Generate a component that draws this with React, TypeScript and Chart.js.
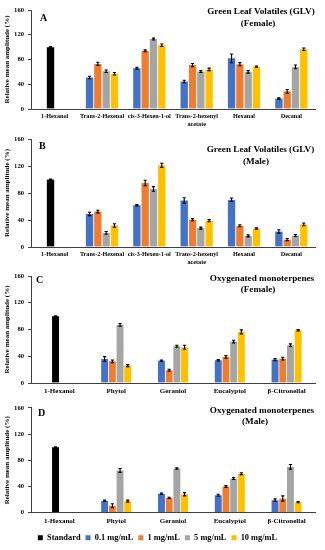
import React, { useEffect, useRef } from 'react';
import { Chart, registerables } from 'chart.js';
Chart.register(...registerables);

const FONT = "'Liberation Serif', 'Times New Roman', serif";
const COLORS = ['#000000', '#4472C4', '#ED7D31', '#A5A5A5', '#FFC000'];

const seriesLabels = ['Standard', '0.1 mg/mL', '1 mg/mL', '5 mg/mL', '10 mg/mL'];
const yAxisTitle = 'Relative mean amplitude (%)';
const yMin = 0;
const yMax = 160;
const yStep = 40;

const glvCategories: (string | string[])[] = ['1-Hexanol', 'Trans-2-Hexenal', 'cis-3-Hexen-1-ol', ['Trans-2-hexenyl', 'acetate'], 'Hexanal', 'Decanal'];
const omCategories: string[] = ['1-Hexanol', 'Phytol', 'Geraniol', 'Eucalyptol', 'β-Citronellal'];

// Panel A: GLV Female
const aStandard = [100, null, null, null, null, null];
const a01 = [0, 51, 66, 44.5, 82, 17];
const a1 = [null, 73, 94, 71, 72.5, 28.5];
const a5 = [null, 61, 113, 60.5, 60, 68];
const a10 = [null, 57, 103, 64, 68.5, 96.5];
const aStandardErr = [1, null, null, null, null, null];
const a01Err = [null, 2, 1.5, 2, 7, 1];
const a1Err = [null, 2.5, 1.5, 2.5, 2.5, 3];
const a5Err = [null, 2, 1.5, 1.5, 2, 3];
const a10Err = [null, 2, 2, 2, 1, 2];

// Panel B: GLV Male
const bStandard = [100, null, null, null, null, null];
const b01 = [0, 49, 62, 69, 70, 23];
const b1 = [null, 52.5, 95, 40.5, 31.5, 11];
const b5 = [null, 21, 86, 28, 16.5, 17];
const b10 = [null, 32, 121, 39, 27.5, 33.5];
const bStandardErr = [0.5, null, null, null, null, null];
const b01Err = [null, 2.5, 1, 4, 2.5, 2.5];
const b1Err = [null, 2, 4, 1.5, 1.5, 1.5];
const b5Err = [null, 2, 3.5, 1.5, 1.5, 1.5];
const b10Err = [null, 2.5, 3, 1.5, 1, 2];

// Panel C: Oxygenated monoterpenes Female
const cStandard = [100, null, null, null, null];
const c01 = [0, 36, 33.5, 34, 35];
const c1 = [null, 32.5, 19, 39, 36.5];
const c5 = [null, 87, 55, 62, 56.5];
const c10 = [null, 26, 53.5, 76.5, 79];
const cStandardErr = [0.5, null, null, null, null];
const c01Err = [null, 3.5, 1, 1, 1.5];
const c1Err = [null, 2, 1.5, 2, 2];
const c5Err = [null, 2, 1.5, 2, 2];
const c10Err = [null, 1.5, 3, 3, 1];

// Panel D: Oxygenated monoterpenes Male
const dStandard = [100, null, null, null, null];
const d01 = [0, 18, 29, 26.5, 19];
const d1 = [null, 10.5, 22.5, 40, 21.5];
const d5 = [null, 64.5, 67.5, 52, 70];
const d10 = [null, 17.5, 28, 59.5, 16];
const dStandardErr = [0.5, null, null, null, null];
const d01Err = [null, 1, 1, 1.5, 2];
const d1Err = [null, 3, 1, 1.5, 4];
const d5Err = [null, 3, 1, 1.5, 3.5];
const d10Err = [null, 1.5, 2.5, 1.5, 1];

const errorBarPlugin = {
  id: 'errorBars',
  afterDatasetsDraw(chart: any, _args: any, opts: any) {
    const errs = opts.errors;
    if (!errs) return;
    const ctx = chart.ctx;
    const y = chart.scales.y;
    ctx.save();
    ctx.strokeStyle = '#000000';
    ctx.lineWidth = 1.1;
    chart.data.datasets.forEach((ds: any, i: number) => {
      const meta = chart.getDatasetMeta(i);
      meta.data.forEach((bar: any, j: number) => {
        const v = ds.data[j];
        const e = errs[i] ? errs[i][j] : null;
        if (v == null || e == null) return;
        const x = bar.x;
        const yt = y.getPixelForValue(v + e);
        const yb = y.getPixelForValue(v - e);
        ctx.beginPath();
        ctx.moveTo(x, yt);
        ctx.lineTo(x, yb);
        ctx.moveTo(x - 1.6, yt);
        ctx.lineTo(x + 1.6, yt);
        ctx.moveTo(x - 1.6, yb);
        ctx.lineTo(x + 1.6, yb);
        ctx.stroke();
      });
    });
    ctx.restore();
  },
};

const panelTextPlugin = {
  id: 'panelText',
  afterDraw(chart: any, _args: any, opts: any) {
    const { ctx, chartArea } = chart;
    ctx.save();
    ctx.fillStyle = '#000000';
    ctx.textBaseline = 'middle';
    ctx.textAlign = 'left';
    ctx.font = `bold 10px ${FONT}`;
    ctx.fillText(opts.letter, opts.letterX, chartArea.top + opts.letterDy);
    ctx.font = `bold 9.2px ${FONT}`;
    ctx.textAlign = 'center';
    opts.lines.forEach((t: string, k: number) => {
      ctx.fillText(t, opts.titleX[k], chartArea.top + opts.titleDy[k]);
    });
    ctx.restore();
  },
};

type PanelProps = {
  top: number;
  height: number;
  padTop: number;
  xHeight: number;
  categories: (string | string[])[];
  series: (number | null)[][];
  errors: (number | null)[][];
  letter: string;
  lines: string[];
  letterX: number;
  letterDy: number;
  titleX: number[];
  titleDy: number[];
  slot: number;
  gap: number;
  catSize: number;
  legend: boolean;
};

function Panel(p: PanelProps) {
  const ref = useRef<HTMLCanvasElement | null>(null);
  useEffect(() => {
    if (!ref.current) return;
    const tickFont = { family: FONT, size: 6.6, weight: 'bold' as const };
    const catFont = { family: FONT, size: p.catSize, weight: 'bold' as const, lineHeight: 1.2 };
    const chart = new Chart(ref.current, {
      type: 'bar',
      data: {
        labels: p.categories as any,
        datasets: p.series.map((d, i) => ({
          label: seriesLabels[i],
          data: d as any,
          backgroundColor: COLORS[i],
          borderColor: '#ffffff',
          borderWidth: { left: p.gap, right: p.gap, top: 0, bottom: 0 } as any,
          barThickness: p.slot,
          skipNull: true,
        })) as any,
      },
      options: {
        responsive: false,
        animation: false,
        devicePixelRatio: 1,
        layout: { padding: { top: p.padTop, left: 0, right: 10, bottom: 0 } },
        plugins: {
          legend: {
            display: p.legend,
            position: 'bottom',
            labels: {
              color: '#000000',
              boxWidth: 5,
              boxHeight: 5,
              padding: 5,
              font: { family: FONT, size: 8.4, weight: 'bold' },
              generateLabels: (chart: any) =>
                (Chart.defaults.plugins.legend.labels.generateLabels as any)(chart).map((l: any) => ({
                  ...l,
                  strokeStyle: l.fillStyle,
                  lineWidth: 0,
                })),
            },
          },
          tooltip: { enabled: false },
          errorBars: { errors: p.errors },
          panelText: {
            letter: p.letter,
            lines: p.lines,
            letterX: p.letterX,
            letterDy: p.letterDy,
            titleX: p.titleX,
            titleDy: p.titleDy,
          },
        } as any,
        scales: {
          x: {
            grid: { display: false, drawTicks: false },
            border: { display: true, color: '#404040', width: 1 },
            ticks: { font: catFont, color: '#000000', padding: 4, maxRotation: 0, autoSkip: false },
            afterFit: (s: any) => {
              s.height = p.xHeight;
            },
          },
          y: {
            min: yMin,
            max: yMax,
            ticks: { stepSize: yStep, font: tickFont, color: '#000000', padding: 4 },
            grid: { drawOnChartArea: false, drawTicks: true, tickLength: 3, color: '#404040' },
            border: { display: true, color: '#404040', width: 1 },
            title: {
              display: true,
              text: yAxisTitle,
              color: '#000000',
              font: { family: FONT, size: 7, weight: 'bold' },
              padding: { top: 3, bottom: 0 },
            },
            afterFit: (s: any) => {
              s.width = 31;
            },
          },
        },
      } as any,
      plugins: [errorBarPlugin, panelTextPlugin],
    });
    return () => chart.destroy();
  }, []);
  return (
    <canvas
      ref={ref}
      width={325}
      height={p.height}
      style={{ position: 'absolute', left: 0, top: p.top, width: 325, height: p.height }}
    />
  );
}

export default function App() {
  return (
    <div style={{ position: 'absolute', left: 0, top: 0, width: 325, height: 550, overflow: 'hidden', background: '#ffffff' }}>
      <Panel
        top={0}
        height={130}
        padTop={10}
        xHeight={21}
        categories={glvCategories}
        series={[aStandard, a01, a1, a5, a10]}
        errors={[aStandardErr, a01Err, a1Err, a5Err, a10Err]}
        letter="A"
        lines={['Green Leaf Volatiles (GLV)', '(Female)']}
        letterX={40}
        letterDy={8}
        titleX={[261, 258]}
        titleDy={[1.7, 13.3]}
        slot={8.3}
        gap={0.8}
        catSize={6.2}
        legend={false}
      />
      <Panel
        top={130}
        height={135}
        padTop={9}
        xHeight={18}
        categories={glvCategories}
        series={[bStandard, b01, b1, b5, b10]}
        errors={[bStandardErr, b01Err, b1Err, b5Err, b10Err]}
        letter="B"
        lines={['Green Leaf Volatiles (GLV)', '(Male)']}
        letterX={39}
        letterDy={7.7}
        titleX={[260.5, 256]}
        titleDy={[11, 23]}
        slot={8.3}
        gap={0.8}
        catSize={6.2}
        legend={false}
      />
      <Panel
        top={265}
        height={135}
        padTop={11}
        xHeight={17}
        categories={omCategories}
        series={[cStandard, c01, c1, c5, c10]}
        errors={[cStandardErr, c01Err, c1Err, c5Err, c10Err]}
        letter="C"
        lines={['Oxygenated monoterpenes', '(Female)']}
        letterX={36}
        letterDy={4}
        titleX={[262, 258]}
        titleDy={[3, 14]}
        slot={7.7}
        gap={0.7}
        catSize={7}
        legend={false}
      />
      <Panel
        top={400}
        height={152}
        padTop={7.5}
        xHeight={16}
        categories={omCategories}
        series={[dStandard, d01, d1, d5, d10]}
        errors={[dStandardErr, d01Err, d1Err, d5Err, d10Err]}
        letter="D"
        lines={['Oxygenated monoterpenes', '(Male)']}
        letterX={38}
        letterDy={5.5}
        titleX={[262, 255]}
        titleDy={[2.5, 14]}
        slot={7.7}
        gap={0.7}
        catSize={7}
        legend={true}
      />
    </div>
  );
}
